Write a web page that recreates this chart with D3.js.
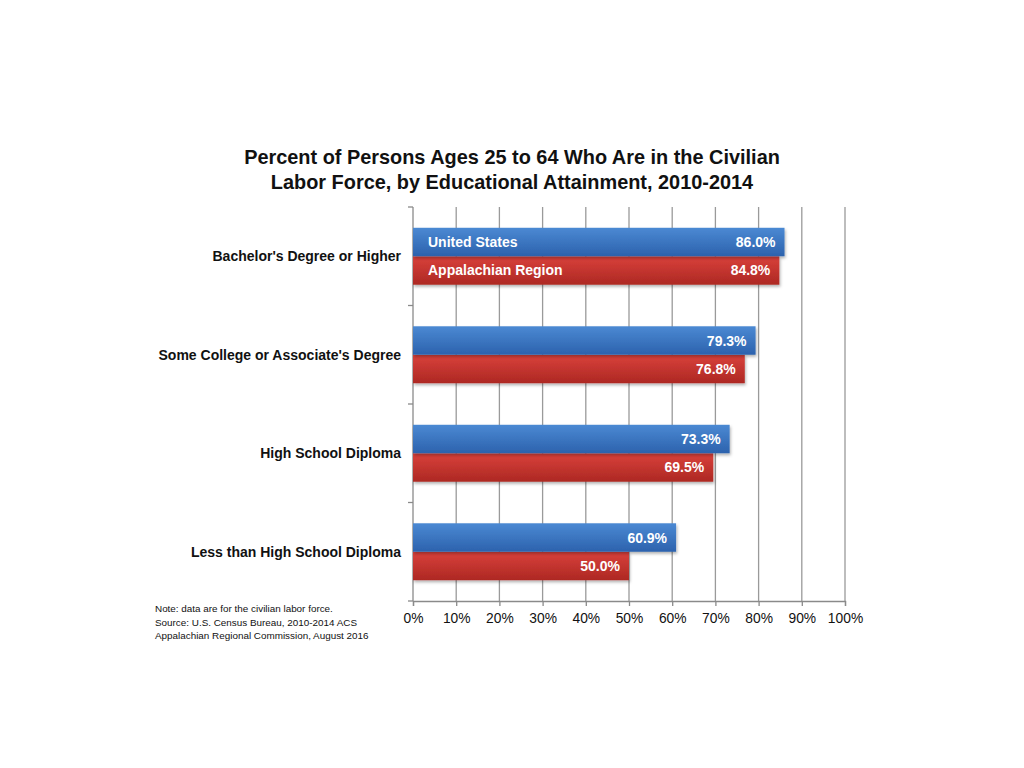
<!DOCTYPE html>
<html>
<head>
<meta charset="utf-8">
<script src="https://cdn.jsdelivr.net/npm/d3@7"></script>
<style>
  body { margin: 0; background: #fff; }
  svg { font-family: "Liberation Sans", Arial, Helvetica, sans-serif; }
</style>
</head>
<body>
<div id="chart"></div>
<script>
// data
var categories = ["Bachelor's Degree or Higher", "Some College or Associate's Degree",
                  "High School Diploma", "Less than High School Diploma"];
var seriesNames = ["United States", "Appalachian Region"];
var usValues = [86.0, 79.3, 73.3, 60.9];
var arcValues = [84.8, 76.8, 69.5, 50.0];
var xTicks = [0, 10, 20, 30, 40, 50, 60, 70, 80, 90, 100];
var titleLines = ["Percent of Persons Ages 25 to 64 Who Are in the Civilian",
                  "Labor Force, by Educational Attainment, 2010-2014"];
var noteLines = ["Note: data are for the civilian labor force.",
                 "Source: U.S. Census Bureau, 2010-2014 ACS",
                 "Appalachian Regional Commission, August 2016"];

var W = 1024, H = 768;
var plotLeft = 413, plotRight = 845, plotTop = 207, plotBottom = 601;

var svg = d3.select('#chart').append('svg')
    .attr('width', W)
    .attr('height', H);

var defs = svg.append('defs');
function grad(id, c1, c2) {
  var g = defs.append('linearGradient').attr('id', id)
      .attr('x1', 0).attr('y1', 0).attr('x2', 0).attr('y2', 1);
  g.append('stop').attr('offset', '0%').attr('stop-color', c1);
  g.append('stop').attr('offset', '100%').attr('stop-color', c2);
}
grad('gBlue', '#4b89d3', '#2c62ad');
grad('gRed', '#d9413b', '#ad2823');
var flt = defs.append('filter').attr('id', 'shadow')
    .attr('x', '-5%').attr('y', '-20%').attr('width', '110%').attr('height', '150%');
flt.append('feDropShadow').attr('dx', 1).attr('dy', 2).attr('stdDeviation', 1.5)
    .attr('flood-color', '#000').attr('flood-opacity', 0.3);

var x = d3.scaleLinear().domain([0, 100]).range([plotLeft, plotRight]);
var y = d3.scaleBand().domain(categories).range([plotTop, plotBottom]);
var inner = d3.scaleBand().domain(seriesNames)
    .range([0, y.bandwidth()]).paddingOuter(0.73).paddingInner(0);

// title
svg.append('g').selectAll('text').data(titleLines)
  .enter().append('text')
    .attr('x', 512)
    .attr('y', function(d, i) { return 164 + i * 25; })
    .attr('text-anchor', 'middle')
    .style('font-size', '19.9px')
    .style('font-weight', 'bold')
    .style('fill', '#111')
    .text(function(d) { return d; });

// gridlines
svg.append('g').selectAll('line').data(xTicks.slice(1))
  .enter().append('line')
    .attr('x1', function(d) { return x(d); })
    .attr('x2', function(d) { return x(d); })
    .attr('y1', plotTop).attr('y2', plotBottom)
    .style('stroke', '#9a9a9a')
    .style('stroke-width', 1.3);

// bottom axis
var xAxis = svg.append('g')
    .attr('transform', 'translate(0,' + plotBottom + ')')
    .call(d3.axisBottom(x).tickValues(xTicks).tickSize(5).tickPadding(7)
      .tickFormat(function(d) { return d + '%'; }));
xAxis.selectAll('path, line').style('stroke', '#8a8a8a').style('stroke-width', 1.3);
xAxis.selectAll('text').style('font-size', '13.8px').style('fill', '#111')
    .style('font-family', '"Liberation Sans", Arial, sans-serif');

// left axis with category separators
var yAxis = svg.append('g')
    .attr('transform', 'translate(' + plotLeft + ',0)');
yAxis.append('line').attr('y1', plotTop).attr('y2', plotBottom)
    .style('stroke', '#8a8a8a').style('stroke-width', 1.3);
var seps = categories.map(function(c) { return y(c); }).concat([plotBottom]);
yAxis.selectAll('line.sep').data(seps)
  .enter().append('line').attr('class', 'sep')
    .attr('x1', -5).attr('x2', 0)
    .attr('y1', function(d) { return d; }).attr('y2', function(d) { return d; })
    .style('stroke', '#8a8a8a').style('stroke-width', 1.3);

// category labels
svg.append('g').selectAll('text').data(categories)
  .enter().append('text')
    .attr('x', plotLeft - 12)
    .attr('y', function(d) { return y(d) + y.bandwidth() / 2 + 5; })
    .attr('text-anchor', 'end')
    .style('font-size', '14px')
    .style('font-weight', 'bold')
    .style('fill', '#111')
    .text(function(d) { return d; });

// bars
var rows = [];
categories.forEach(function(c, i) {
  rows.push({ cat: c, series: seriesNames[0], value: usValues[i], fill: 'url(#gBlue)', idx: i });
  rows.push({ cat: c, series: seriesNames[1], value: arcValues[i], fill: 'url(#gRed)', idx: i });
});
// red bars drawn first
rows.sort(function(a, b) { return (a.series === seriesNames[1] ? 0 : 1) - (b.series === seriesNames[1] ? 0 : 1); });

var bars = svg.append('g').selectAll('g').data(rows)
  .enter().append('g')
    .attr('transform', function(d) {
      return 'translate(0,' + (y(d.cat) + inner(d.series)) + ')';
    });

bars.append('rect')
    .attr('x', x(0))
    .attr('width', function(d) { return x(d.value) - x(0); })
    .attr('height', inner.bandwidth())
    .attr('fill', function(d) { return d.fill; })
    .attr('filter', 'url(#shadow)');

bars.append('text')
    .attr('x', function(d) { return x(d.value) - 9; })
    .attr('y', inner.bandwidth() / 2 + 5)
    .attr('text-anchor', 'end')
    .style('font-size', '14px')
    .style('font-weight', 'bold')
    .style('fill', '#fff')
    .text(function(d) { return d.value.toFixed(1) + '%'; });

// series names inside the first pair of bars
bars.filter(function(d) { return d.idx === 0; })
  .append('text')
    .attr('x', x(0) + 15)
    .attr('y', inner.bandwidth() / 2 + 5)
    .style('font-size', '14px')
    .style('font-weight', 'bold')
    .style('fill', '#fff')
    .text(function(d) { return d.series; });

// note
svg.append('g').selectAll('text').data(noteLines)
  .enter().append('text')
    .attr('x', 155)
    .attr('y', function(d, i) { return 612 + i * 13.5; })
    .style('font-size', '9.9px')
    .style('fill', '#111')
    .text(function(d) { return d; });
</script>
</body>
</html>
